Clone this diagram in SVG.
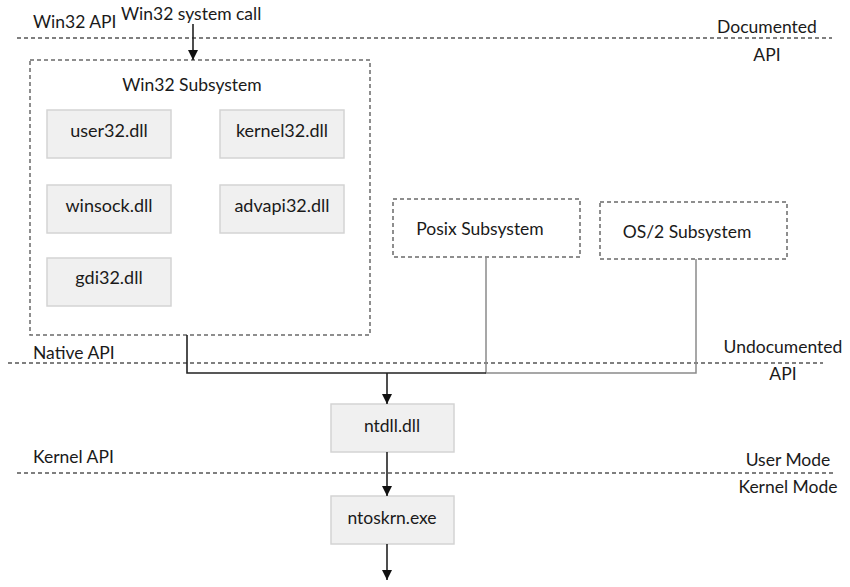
<svg xmlns="http://www.w3.org/2000/svg" width="850" height="587" viewBox="0 0 850 587">
<defs>
<style>
text{font-family:Lato,"Open Sans","Liberation Sans",sans-serif;font-size:17.5px;fill:#1a1a1a}
.c{text-anchor:middle}
.b{font-size:18px}
.sep{stroke:#555;stroke-width:1.3;stroke-dasharray:4 3;fill:none}
.grp{stroke:#6a6a6a;stroke-width:1.5;stroke-dasharray:4 3;fill:#fff}
.box{fill:#f0f0f0;stroke:#d4d4d4;stroke-width:1.5}
.dk{stroke:#222;stroke-width:1.6;fill:none}
.lt{stroke:#8a8a8a;stroke-width:1.5;fill:none}
</style>
<marker id="ah" viewBox="0 0 10 10" refX="10" refY="5" markerWidth="10" markerHeight="10" markerUnits="userSpaceOnUse" orient="auto">
<path d="M0,0 L10,5 L0,10 z" fill="#111"/>
</marker>
</defs>
<g id="separators">
<line class="sep" x1="17" y1="38" x2="832" y2="38"/>
<line class="sep" x1="8" y1="363" x2="823" y2="363"/>
<line class="sep" x1="17" y1="473" x2="833" y2="473"/>
</g>
<g id="labels">
<text x="33" y="28">Win32 API</text>
<text x="121" y="20">Win32 system call</text>
<text x="767" y="33" class="c">Documented</text>
<text x="767" y="61" class="c">API</text>
<text x="33" y="359">Native API</text>
<text x="783" y="353" class="c">Undocumented</text>
<text x="783" y="380" class="c">API</text>
<text x="33" y="463">Kernel API</text>
<text x="788" y="466" class="c">User Mode</text>
<text x="788" y="493" class="c">Kernel Mode</text>
</g>
<g id="win32-subsystem">
<rect class="grp" x="30" y="60" width="340" height="275"/>
<text x="192" y="91" class="c">Win32 Subsystem</text>
</g>
<g id="user32"><rect class="box" x="47" y="110" width="124" height="48"/><text x="109" y="137" class="c b">user32.dll</text></g>
<g id="kernel32"><rect class="box" x="220" y="110" width="124" height="48"/><text x="282" y="137" class="c b">kernel32.dll</text></g>
<g id="winsock"><rect class="box" x="47" y="185" width="124" height="48"/><text x="109" y="212" class="c b">winsock.dll</text></g>
<g id="advapi32"><rect class="box" x="220" y="185" width="124" height="48"/><text x="282" y="212" class="c b">advapi32.dll</text></g>
<g id="gdi32"><rect class="box" x="47" y="258" width="124" height="48"/><text x="109" y="284" class="c b">gdi32.dll</text></g>
<g id="posix"><rect class="grp" x="393" y="199" width="187" height="58"/><text x="480" y="235" class="c">Posix Subsystem</text></g>
<g id="os2"><rect class="grp" x="600" y="202" width="187" height="57"/><text x="687" y="238" class="c">OS/2 Subsystem</text></g>
<g id="ntdll"><rect class="box" x="331" y="404" width="123" height="48"/><text x="392" y="432" class="c">ntdll.dll</text></g>
<g id="ntoskrnl"><rect class="box" x="331" y="496" width="123" height="48"/><text x="392" y="524" class="c">ntoskrn.exe</text></g>
<g id="connectors">
<line class="dk" x1="193" y1="24" x2="193" y2="60" marker-end="url(#ah)"/>
<polyline class="lt" points="486,257 486,373 696,373 696,259"/>
<polyline class="dk" points="187,335 187,373 486,373"/>
<line class="dk" x1="387" y1="373" x2="387" y2="404" marker-end="url(#ah)"/>
<line class="dk" x1="387" y1="452" x2="387" y2="496" marker-end="url(#ah)"/>
<line class="dk" x1="387" y1="544" x2="387" y2="580" marker-end="url(#ah)"/>
</g>
</svg>
